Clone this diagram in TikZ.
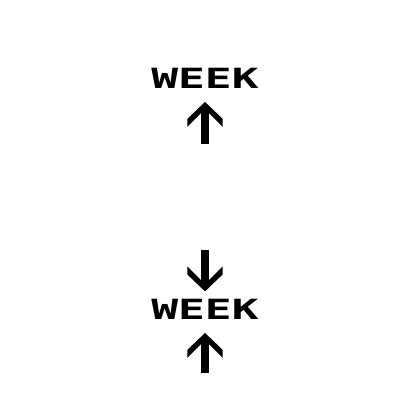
\documentclass[tikz,border=0pt]{standalone}
\usepackage{fontspec}
\newfontfamily\weekfont{DejaVu Sans Mono}[FakeStretch=1.6]
\usetikzlibrary{arrows.meta}

\pgfdeclarearrow{
	name = Chevron,
	setup code = {
		\pgfarrowssettipend{0pt}
		\pgfarrowssetlineend{-7pt}
		\pgfarrowssetbackend{-17.8pt}
		\pgfarrowssetvisualbackend{-17.8pt}
	},
	drawing code = {
		\pgfpathmoveto{\pgfpointorigin}
		\pgfpathlineto{\pgfpoint{-12.1pt}{12.6pt}}
		\pgfpathlineto{\pgfpoint{-17.8pt}{12.6pt}}
		\pgfpathlineto{\pgfpoint{-8.2pt}{3.1pt}}
		\pgfpathlineto{\pgfpoint{-8.2pt}{-3.1pt}}
		\pgfpathlineto{\pgfpoint{-17.8pt}{-12.6pt}}
		\pgfpathlineto{\pgfpoint{-12.1pt}{-12.6pt}}
		\pgfpathclose
		\pgfusepathqfill
	}
}

\tikzset{
	word/.style = {font=\weekfont\bfseries\fontsize{19.8}{24}\selectfont, inner sep=0pt, anchor=base},
	pointer/.style = {-Chevron, line width=6.2pt}
}

\begin{document}
\begin{tikzpicture}[x=0.025cm, y=0.025cm]
	\useasboundingbox (0,0) rectangle (400,400);
		\node[word] (W1) at (205,311.7) {WEEK};
		\node[word] (W2) at (205,80.7) {WEEK};
		\coordinate (U1) at (205,256.3);
		\coordinate (D2) at (205,150);
		\coordinate (U2) at (205,26.7);
	%	arrows stop short of the words
		\draw[pointer, shorten >=9.5pt] (U1) -- (W1);
		\draw[pointer, shorten >=5.2pt] (D2) -- (W2);
		\draw[pointer, shorten >=9.5pt] (U2) -- (W2);
	\end{tikzpicture}
\end{document}
